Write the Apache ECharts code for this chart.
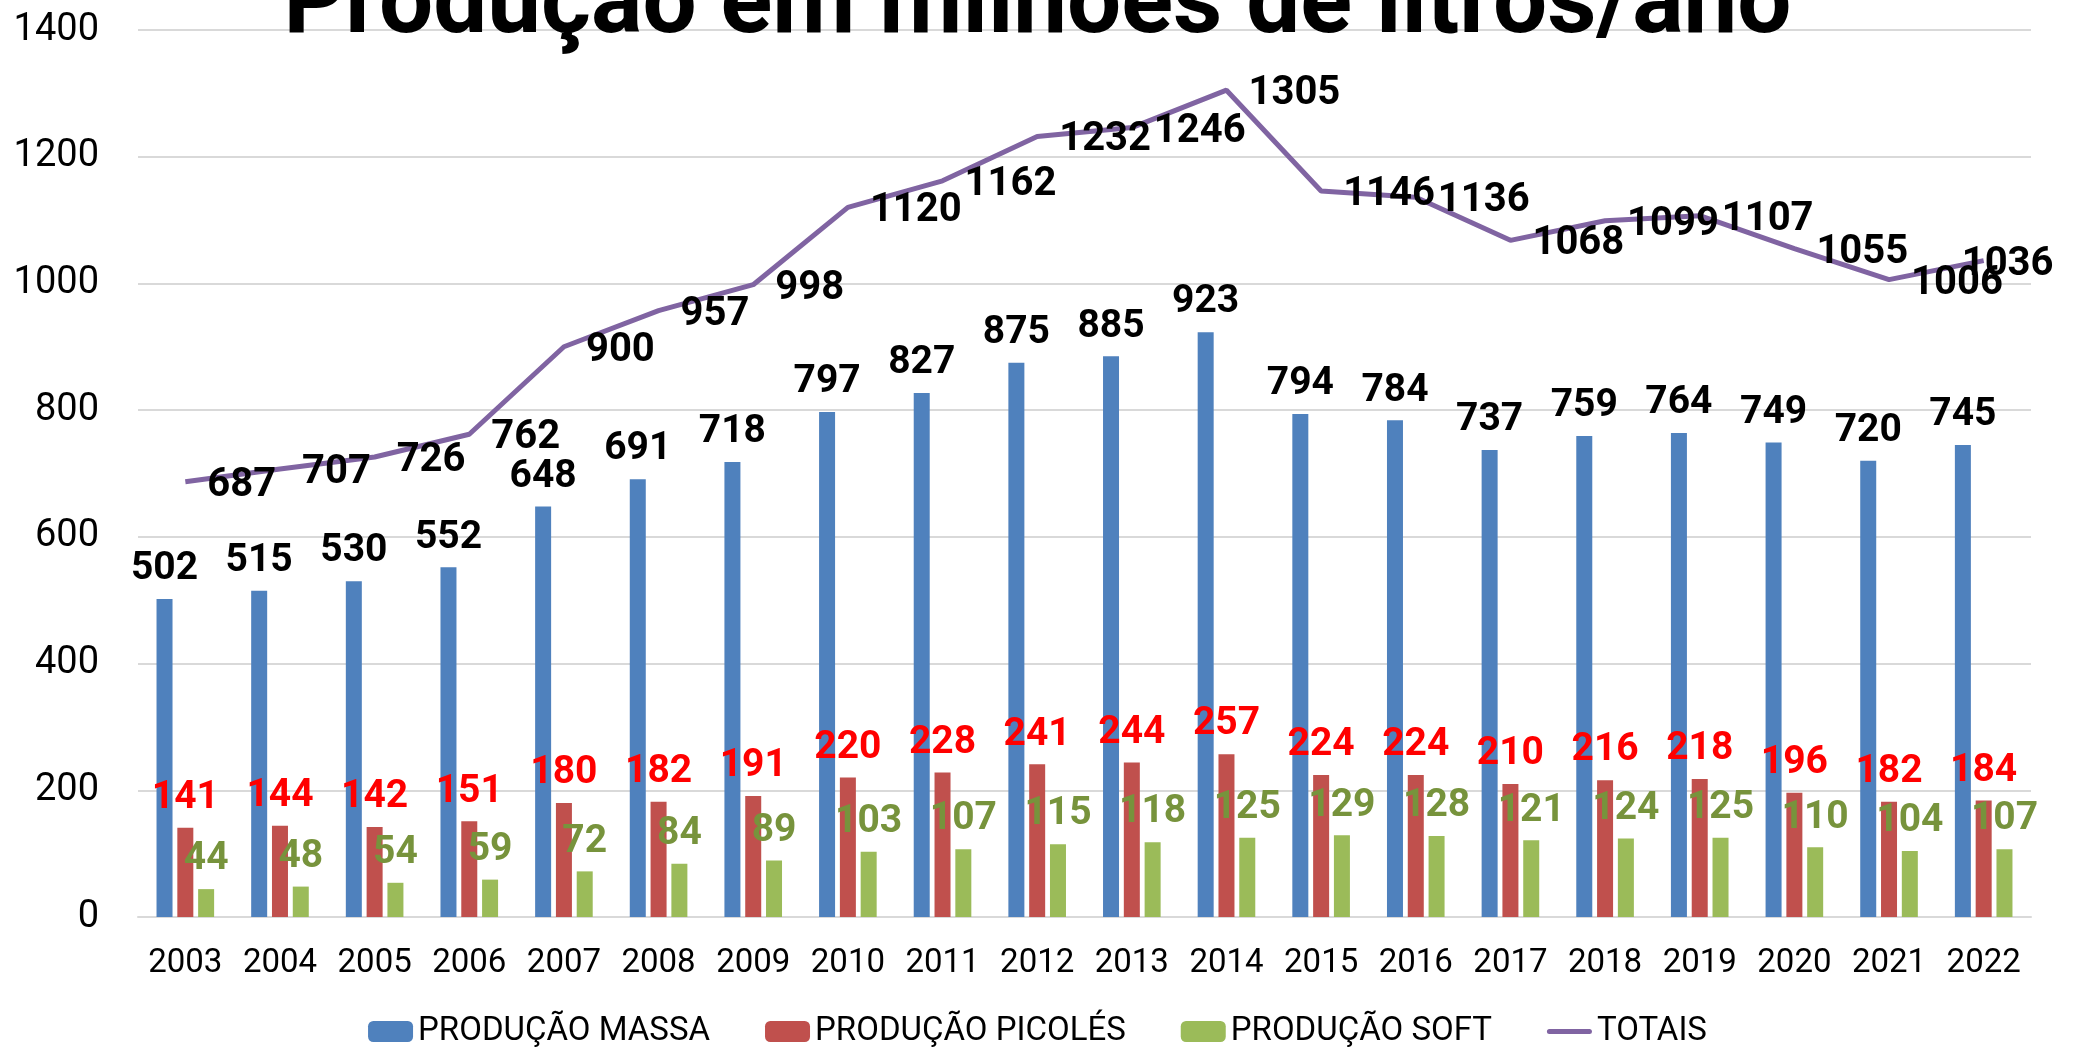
<!DOCTYPE html>
<html>
<head>
<meta charset="utf-8">
<script src="https://cdn.jsdelivr.net/npm/echarts@6/dist/echarts.min.js"></script>
<style>
html,body{margin:0;padding:0;background:#fff;}
#c{width:2075px;height:1048px;}
</style>
</head>
<body>
<div id="c"></div>
<script>
const titleText = 'Produção em milhões de litros/ano';
const years = ['2003','2004','2005','2006','2007','2008','2009','2010','2011','2012','2013','2014','2015','2016','2017','2018','2019','2020','2021','2022'];
const massa = [502,515,530,552,648,691,718,797,827,875,885,923,794,784,737,759,764,749,720,745];
const picoles = [141,144,142,151,180,182,191,220,228,241,244,257,224,224,210,216,218,196,182,184];
const soft = [44,48,54,59,72,84,89,103,107,115,118,125,129,128,121,124,125,110,104,107];
const totais = [687,707,726,762,900,957,998,1120,1162,1232,1246,1305,1146,1136,1068,1099,1107,1055,1006,1036];
const yTicks = [0,200,400,600,800,1000,1200,1400];

const FONT = 'Roboto';
const chart = echarts.init(document.getElementById('c'), null, {renderer:'canvas'});

const totData = totais.map((v,i)=> i === totais.length-1
  ? {value:v, label:{offset:[-44,4]}}
  : v);

const barLabel = (color)=>({
  show:true, position:'top', distance:10,
  color:color, fontFamily:FONT, fontWeight:'bold', fontSize:39
});

const lineIcon = 'path://M0,0 M45,21 M2.5,8 L42.5,8 A2.5,2.5 0 0 1 42.5,13 L2.5,13 A2.5,2.5 0 0 1 2.5,8 Z';

chart.setOption({
  animation:false,
  backgroundColor:'#fff',
  title:{
    text:titleText, left:'center', top:-45,
    textStyle:{fontFamily:FONT, fontWeight:'bold', fontSize:96, color:'#000'}
  },
  legend:{
    top:1010, left:'center', itemGap:55, itemWidth:45, itemHeight:21,
    textStyle:{fontFamily:FONT, fontSize:33, color:'#000'},
    data:['PRODUÇÃO MASSA','PRODUÇÃO PICOLÉS','PRODUÇÃO SOFT',{name:'TOTAIS', icon:lineIcon}]
  },
  grid:{left:138, right:44, top:30, bottom:131, containLabel:false},
  xAxis:{
    type:'category', data:years,
    axisLine:{lineStyle:{color:'#D9D9D9', width:2}},
    axisTick:{show:false},
    axisLabel:{fontFamily:FONT, fontSize:33, color:'#000', margin:30, interval:0}
  },
  yAxis:{
    type:'value', min:yTicks[0], max:yTicks[yTicks.length-1], interval:200,
    axisLine:{show:false}, axisTick:{show:false},
    splitLine:{lineStyle:{color:'#D9D9D9', width:2}},
    axisLabel:{fontFamily:FONT, fontSize:38, color:'#000', margin:39, formatter:(v)=>String(v)}
  },
  series:[
    {name:'PRODUÇÃO MASSA', type:'bar', data:massa, barWidth:16, barGap:'30%',
      itemStyle:{color:'#4F81BD'}, label:barLabel('#000')},
    {name:'PRODUÇÃO PICOLÉS', type:'bar', data:picoles, barWidth:16, barGap:'30%',
      itemStyle:{color:'#C0504D'}, label:barLabel('#FF0000')},
    {name:'PRODUÇÃO SOFT', type:'bar', data:soft, barWidth:16, barGap:'30%',
      itemStyle:{color:'#9BBB59'}, label:barLabel('#77933C')},
    {name:'TOTAIS', type:'line', data:totData, symbol:'circle', symbolSize:0.01, showSymbol:true, z:5,
      lineStyle:{color:'#8064A2', width:5},
      itemStyle:{color:'#8064A2'},
      label:{show:true, position:'right', distance:22, offset:[0,4], color:'#000',
        fontFamily:FONT, fontWeight:'bold', fontSize:40}}
  ]
});
</script>
</body>
</html>
